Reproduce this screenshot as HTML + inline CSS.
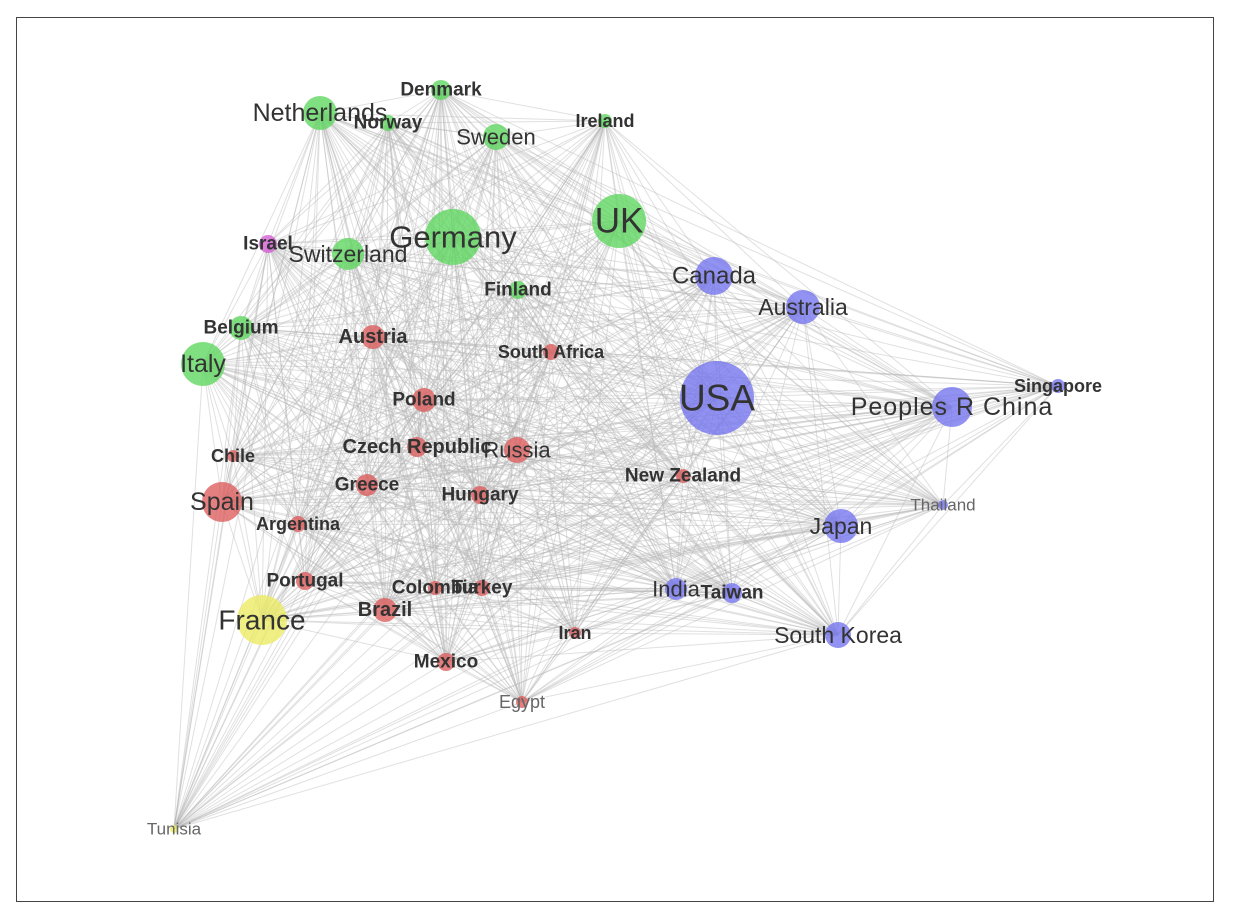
<!DOCTYPE html>
<html><head><meta charset="utf-8"><style>
html,body{margin:0;padding:0;background:#fff;}
svg{display:block;}
text{font-family:"Liberation Sans",sans-serif;fill:#333;text-anchor:middle;dominant-baseline:central;}
</style></head><body>
<svg id="s" width="1240" height="914" viewBox="0 0 1240 914" xmlns="http://www.w3.org/2000/svg">
<rect x="0" y="0" width="1240" height="914" fill="#fff"/>
<rect x="16.5" y="17.5" width="1197" height="884" fill="#fff" stroke="#444" stroke-width="1"/>
<g id="e" stroke="#b4b4b4" stroke-width="1" stroke-opacity="0.42"></g>
<g id="n"></g>
<g id="t"></g>
</svg>
<script>
var G="#5cd65c",B="#7373ee",R="#dd5c5c",Y="#eaea62",M="#d45cd4";
var N=[
["Denmark",441,90,10,G,17],["Netherlands",320,113,17,G,22],["Norway",388,123,8,G,17],
["Sweden",496,137,13,G,19],["Ireland",605,121,7,G,16],["UK",619,221,27,G,30],
["Germany",453,237,28,G,27],["Switzerland",348,254,16,G,20],["Israel",268,244,9,M,17],
["Finland",518,290,9,G,17],["Canada",714,276,19,B,21],["Australia",803,307,17,B,20],
["Belgium",241,328,12,G,17],["Italy",203,364,22,G,22],["Austria",373,337,12,R,18],
["South Africa",551,352,8,R,16],["USA",717,398,37,B,32],["Singapore",1058,386,7,B,16],
["Peoples R China",952,407,20,B,22],["Poland",424,400,12,R,17],["Czech Republic",417,447,10,R,18],
["Russia",517,450,13,R,19],["Chile",233,456,6,R,16],["New Zealand",683,476,7,R,17],
["Thailand",943,505,5,B,15,"#666"],["Spain",222,502,20,R,22],["Greece",367,485,11,R,17],
["Hungary",480,495,9,R,17],["Argentina",298,524,8,R,16],["Japan",841,526,17,B,20],
["Portugal",305,581,9,R,17],["Colombia",435,588,7,R,17],["Turkey",482,588,8,R,17],
["India",676,589,11,B,19],["Taiwan",732,593,10,B,17],["France",262,620,25,Y,24],
["Brazil",385,610,12,R,18],["Iran",575,633,6,R,16],["South Korea",838,635,13,B,20],
["Mexico",446,662,9,R,17],["Egypt",522,702,6,R,16,"#666"],["Tunisia",174,829,4,Y,15,"#666"]
];
var ns="http://www.w3.org/2000/svg";
function el(t,a){var x=document.createElementNS(ns,t);for(var k in a)x.setAttribute(k,a[k]);return x;}
var e=document.getElementById("e"),n=document.getElementById("n"),t=document.getElementById("t");
var seed=7;function rnd(){seed=(seed*16807)%2147483647;return seed/2147483647;}
for(var i=0;i<N.length;i++)for(var j=i+1;j<N.length;j++){
 var p=(N[i][3]+N[j][3])/30; if(rnd()<Math.min(0.95,0.35+p)){
 e.appendChild(el("line",{x1:N[i][1],y1:N[i][2],x2:N[j][1],y2:N[j][2]}));}
}
N.forEach(function(d){
 n.appendChild(el("circle",{cx:d[1],cy:d[2],r:d[3],fill:d[4],"fill-opacity":0.78}));
 var small=d[5]<=18;
 var fs=Math.round(d[5]*(small?1.1:1.15));
 var tx=el("text",{x:d[1],y:d[2],"font-size":fs});
 var st="";
 if(d[6])st+="fill:"+d[6]+";";
 else if(small)st+="font-weight:bold;";
 if(d[0]=="Peoples R China")st+="letter-spacing:1px;";
 tx.setAttribute("style",st);
 tx.textContent=d[0];t.appendChild(tx);
});
</script>
</body></html>
